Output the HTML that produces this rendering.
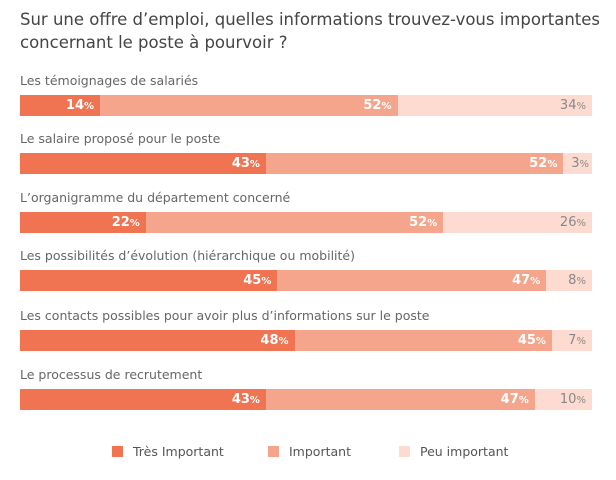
<!DOCTYPE html>
<html><head><meta charset="utf-8"><style>
body{margin:0;width:616px;height:480px;background:#fff;font-family:"DejaVu Sans","Liberation Sans",sans-serif;color:#555;position:relative;overflow:hidden}
.t{position:absolute;left:20px;top:8px;font-size:16.5px;line-height:23px;color:#444;width:590px}
.l{position:absolute;left:20px;font-size:12.5px;color:#666}
.b{position:absolute;left:20px;width:572px;height:21px;display:flex}
.s{height:21px;text-align:right;box-sizing:border-box;padding-right:6px;font-size:13px;font-weight:bold;color:#fff;line-height:22px}
.s small{font-size:10px}
.a{background:#f07352}.m{background:#f4a58b}.p{background:#fddbd1;color:#888;font-weight:normal}
.g{position:absolute;top:444px;font-size:12.5px;color:#555}
.g i{display:inline-block;width:11px;height:11px;vertical-align:-1px;margin-right:10px}
</style></head><body>
<div class="t">Sur une offre d’emploi, quelles informations trouvez-vous importantes<br>concernant le poste à pourvoir ?</div>

<div class="l" style="top:73px">Les témoignages de salariés</div>
<div class="b" style="top:95px"><div class="s a" style="width:14%">14<small>%</small></div><div class="s m" style="width:52%">52<small>%</small></div><div class="s p" style="width:34%">34<small>%</small></div></div>

<div class="l" style="top:131px">Le salaire proposé pour le poste</div>
<div class="b" style="top:153px"><div class="s a" style="width:43%">43<small>%</small></div><div class="s m" style="width:52%">52<small>%</small></div><div class="s p" style="width:5%;padding-right:3px">3<small>%</small></div></div>

<div class="l" style="top:190px">L’organigramme du département concerné</div>
<div class="b" style="top:212px"><div class="s a" style="width:22%">22<small>%</small></div><div class="s m" style="width:52%">52<small>%</small></div><div class="s p" style="width:26%">26<small>%</small></div></div>

<div class="l" style="top:248px">Les possibilités d’évolution (hiérarchique ou mobilité)</div>
<div class="b" style="top:270px"><div class="s a" style="width:45%">45<small>%</small></div><div class="s m" style="width:47%">47<small>%</small></div><div class="s p" style="width:8%">8<small>%</small></div></div>

<div class="l" style="top:308px">Les contacts possibles pour avoir plus d’informations sur le poste</div>
<div class="b" style="top:330px"><div class="s a" style="width:48%">48<small>%</small></div><div class="s m" style="width:45%">45<small>%</small></div><div class="s p" style="width:7%">7<small>%</small></div></div>

<div class="l" style="top:367px">Le processus de recrutement</div>
<div class="b" style="top:389px"><div class="s a" style="width:43%">43<small>%</small></div><div class="s m" style="width:47%">47<small>%</small></div><div class="s p" style="width:10%">10<small>%</small></div></div>

<div class="g" style="left:112px"><i style="background:#f07352"></i>Très Important</div>
<div class="g" style="left:268px"><i style="background:#f4a58b"></i>Important</div>
<div class="g" style="left:399px"><i style="background:#fddbd1"></i>Peu important</div>
</body></html>
